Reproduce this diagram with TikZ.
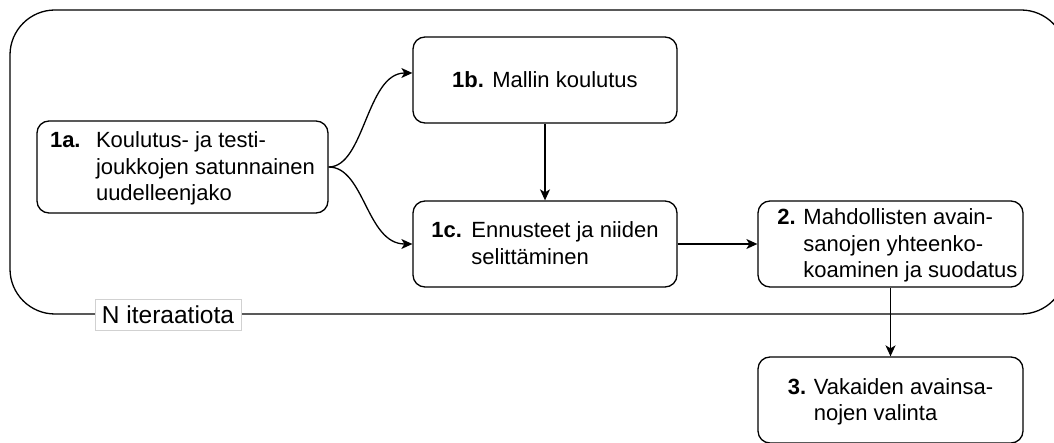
\documentclass[tikz,border=0pt]{standalone}
\usepackage{fontspec}
\setmainfont{Liberation Sans}
\usetikzlibrary{arrows.meta,calc}

% bold step number set in a fixed-width column
\newcommand{\numlbl}[2]{\makebox[#1][l]{\bfseries #2}}
% box text: 22pt with 26.5pt lines, struts tuned so lines sit centred
\newcommand{\boxfont}{\fontsize{22}{26.5}\selectfont
  \setbox\strutbox\hbox{\vrule height 20.5pt depth 6pt width 0pt}}

\tikzset{
  stepbox/.style={draw, line width=1.3pt, rounded corners=12pt,
    minimum width=264pt, minimum height=86pt, inner sep=0pt, font=\boxfont},
  flow/.style={line width=1.3pt,
    -{Stealth[length=11pt,width=10pt,inset=3pt]}},
  looplbl/.style={draw=black!18, line width=0.8pt, fill=white,
    inner xsep=7pt, inner ysep=0pt, minimum height=31pt,
    font=\fontsize{24.5}{29}\selectfont},
}

\begin{document}
\begin{tikzpicture}[x=1pt,y=-1pt]
\useasboundingbox (0,0) rectangle (1054,443);

% iteration loop frame
\node[draw, line width=1.3pt, rounded corners=45pt, minimum width=1056pt,
      minimum height=304pt, inner sep=0pt] (loop) at (538,162) {};
\node[looplbl] (iter) at (168,314.5) {N iteraatiota};

% process steps
\node[stepbox, minimum width=291pt, minimum height=92pt] (a) at (182.5,167)
  {\begin{tabular}{@{}l@{}l@{}}\numlbl{46pt}{1a.} & Koulutus- ja testi-\\
   & joukkojen satunnainen\\ & uudelleenjako\end{tabular}};
\node[stepbox] (b) at (545,80)
  {\begin{tabular}{@{}l@{}l@{}}\numlbl{40pt}{1b.} & Mallin koulutus\end{tabular}\hspace{14pt}};
\node[stepbox] (c) at (545,244)
  {\begin{tabular}{@{}l@{}l@{}}\numlbl{40pt}{1c.} & Ennusteet ja niiden\\
   & selittäminen\end{tabular}};
\node[stepbox, minimum width=265pt] (d) at (890.5,244)
  {\hspace{14pt}\begin{tabular}{@{}l@{}l@{}}\numlbl{26pt}{2.} & Mahdollisten avain-\\
   & sanojen yhteenko-\\ & koaminen ja suodatus\end{tabular}};
\node[stepbox, minimum width=265pt] (e) at (890.5,400)
  {\begin{tabular}{@{}l@{}l@{}}\numlbl{26pt}{3.} & Vakaiden avainsa-\\
   & nojen valinta\end{tabular}};

% connectors
\draw[flow] (a.east) .. controls +(36,0) and +(-46,0) .. ([yshift=7pt]b.west);
\draw[flow] (a.east) .. controls +(36,0) and +(-46,0) .. (c.west);
\draw[flow] (b) -- (c);
\draw[flow] (c) -- (d);
\draw[flow] (d) -- (e);
\end{tikzpicture}
\end{document}
